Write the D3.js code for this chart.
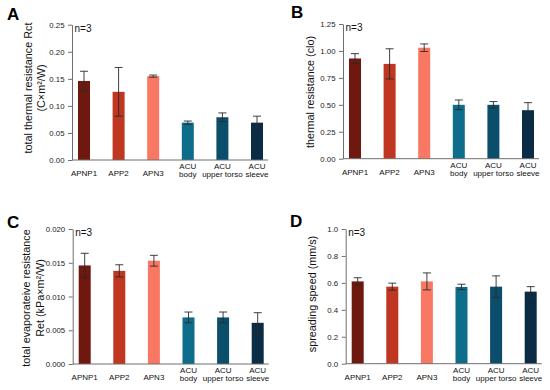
<!DOCTYPE html>
<html>
<head>
<meta charset="utf-8">
<script src="https://cdn.jsdelivr.net/npm/d3@7"></script>
<style>
  body { margin: 0; background: #fff; }
  svg { font-family: "Liberation Sans", Arial, sans-serif; }
</style>
</head>
<body>
<div id="chart"></div>
<script>
var categories = ["APNP1", "APP2", "APN3", "ACU|body", "ACU|upper torso", "ACU|sleeve"];
var colors = ["#6f180f", "#bf3621", "#f97863", "#0d6d8b", "#0a4e6b", "#0a2c44"];

var rctMean = [0.146, 0.126, 0.155, 0.069, 0.079, 0.069];
var rctErr  = [0.018, 0.045, 0.002, 0.003, 0.008, 0.012];
var rctTicks = [0, 0.05, 0.10, 0.15, 0.20, 0.25];

var cloMean = [0.93, 0.88, 1.03, 0.50, 0.50, 0.45];
var cloErr  = [0.045, 0.14, 0.035, 0.045, 0.03, 0.07];
var cloTicks = [0, 0.25, 0.5, 0.75, 1.0, 1.25];

var retMean = [0.0146, 0.0138, 0.0153, 0.0069, 0.0069, 0.0061];
var retErr  = [0.0018, 0.0009, 0.0008, 0.0008, 0.0008, 0.0015];
var retTicks = [0, 0.005, 0.010, 0.015, 0.020];

var speedMean = [0.611, 0.572, 0.611, 0.570, 0.572, 0.535];
var speedErr  = [0.027, 0.026, 0.063, 0.020, 0.080, 0.037];
var speedTicks = [0, 0.2, 0.4, 0.6, 0.8, 1.0];

var width = 550, height = 390;

var svg = d3.select("#chart").append("svg")
    .attr("width", width)
    .attr("height", height);

var panels = [
    { letter: "A", x: 72, top: 24.7, bottom: 160, mean: rctMean, err: rctErr, ticks: rctTicks,
      fmt: d3.format(".2f"), title: ["total thermal resistance Rct", "(C×m²/W)"], titleX: [32, 45], titleY: 88,
      letterX: 7, letterY: 20 },
    { letter: "B", x: 343, top: 24, bottom: 158.7, mean: cloMean, err: cloErr, ticks: cloTicks,
      fmt: d3.format(".2f"), title: ["thermal resistance (clo)"], titleX: [314], titleY: 92,
      letterX: 291, letterY: 18 },
    { letter: "C", x: 72.7, top: 229, bottom: 364, mean: retMean, err: retErr, ticks: retTicks,
      fmt: d3.format(".3f"), title: ["total evaporateive resistance", "Ret (kPa×m²/W)"], titleX: [30, 43.5], titleY: 298,
      letterX: 7, letterY: 228 },
    { letter: "D", x: 345.7, top: 229, bottom: 363.7, mean: speedMean, err: speedErr, ticks: speedTicks,
      fmt: d3.format(".1f"), title: ["spreading speed (mm/s)"], titleX: [316], titleY: 294,
      letterX: 290, letterY: 227 }
];

panels.forEach(function (p) {
    var g = svg.append("g");

    var y = d3.scaleLinear()
        .domain([0, p.ticks[p.ticks.length - 1]])
        .range([p.bottom, p.top]);

    var x = d3.scalePoint()
        .domain(categories)
        .range([p.x + 12, p.x + 185]);

    // bars
    g.selectAll("rect.bar")
        .data(p.mean)
        .enter().append("rect")
        .attr("class", "bar")
        .attr("x", (d, i) => x(categories[i]) - 6)
        .attr("y", d => y(d))
        .attr("width", 12)
        .attr("height", d => p.bottom - y(d))
        .attr("fill", (d, i) => colors[i]);

    // error bars
    var eb = g.selectAll("g.err")
        .data(p.mean)
        .enter().append("g")
        .attr("class", "err")
        .attr("stroke", "#2a2a2a")
        .attr("stroke-width", 0.9);
    eb.append("line")
        .attr("x1", (d, i) => x(categories[i]))
        .attr("x2", (d, i) => x(categories[i]))
        .attr("y1", (d, i) => y(d - p.err[i]))
        .attr("y2", (d, i) => y(d + p.err[i]));
    eb.append("line")
        .attr("x1", (d, i) => x(categories[i]) - 4)
        .attr("x2", (d, i) => x(categories[i]) + 4)
        .attr("y1", (d, i) => y(d + p.err[i]))
        .attr("y2", (d, i) => y(d + p.err[i]));
    eb.append("line")
        .attr("x1", (d, i) => x(categories[i]) - 4)
        .attr("x2", (d, i) => x(categories[i]) + 4)
        .attr("y1", (d, i) => y(d - p.err[i]))
        .attr("y2", (d, i) => y(d - p.err[i]));

    // y axis
    var yAxis = g.append("g")
        .attr("transform", "translate(" + p.x + ",0)")
        .call(d3.axisLeft(y).tickValues(p.ticks).tickFormat(p.fmt).tickSize(4).tickPadding(3.5).tickSizeOuter(0));
    yAxis.select(".domain").attr("stroke", "#6e6e6e");
    yAxis.selectAll(".tick line").attr("stroke", "#6e6e6e");
    yAxis.selectAll(".tick text").attr("font-size", 7.8).attr("fill", "#222");

    // x axis line
    g.append("line")
        .attr("x1", p.x).attr("x2", p.x + 196)
        .attr("y1", p.bottom).attr("y2", p.bottom)
        .attr("stroke", "#6e6e6e");

    // x labels
    categories.forEach(function (c) {
        var parts = c.split("|");
        var t = g.append("text")
            .attr("text-anchor", "middle")
            .attr("font-size", 8)
            .attr("fill", "#111");
        if (parts.length === 1) {
            t.attr("x", x(c)).attr("y", p.bottom + 16).text(parts[0]);
        } else {
            t.append("tspan").attr("x", x(c)).attr("y", p.bottom + 9).text(parts[0]);
            t.append("tspan").attr("x", x(c)).attr("y", p.bottom + 17).text(parts[1]);
        }
    });

    // y title
    p.title.forEach(function (line, k) {
        g.append("text")
            .attr("transform", "translate(" + p.titleX[k] + "," + p.titleY + ") rotate(-90)")
            .attr("text-anchor", "middle")
            .attr("font-size", 10.8)
            .attr("fill", "#111")
            .text(line);
    });

    // n=3
    g.append("text")
        .attr("x", p.x + 2.5)
        .attr("y", p.top + 7)
        .attr("font-size", 10)
        .attr("fill", "#111")
        .text("n=3");

    // panel letter
    g.append("text")
        .attr("x", p.letterX)
        .attr("y", p.letterY)
        .attr("font-size", 17)
        .attr("font-weight", "bold")
        .attr("fill", "#000")
        .text(p.letter);
});
</script>
</body>
</html>
